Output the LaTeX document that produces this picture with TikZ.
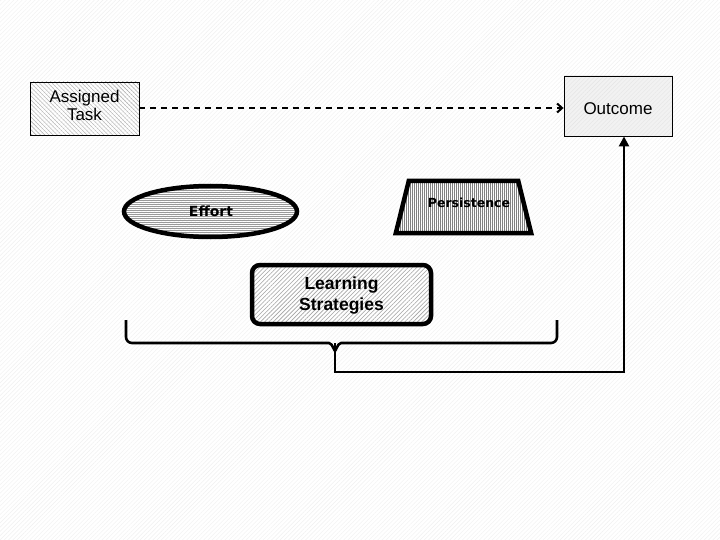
\documentclass[tikz,border=0pt]{standalone}
\usepackage{fontspec}
\setmainfont{Liberation Sans}
\newfontfamily\boldsans{DejaVu Sans}
\usetikzlibrary{arrows.meta,patterns,patterns.meta,shapes.geometric}
\tikzset{
  thinbox/.style={draw=black,line width=0.9pt,inner sep=0pt,align=center},
  thickshape/.style={draw=black,line width=4.5pt,inner sep=0pt,align=center},
  smallbold/.style={font=\boldsans\bfseries\fontsize{12.5}{14}\selectfont},
  boxtext/.style={font=\fontsize{17}{18.5}\selectfont,align=center,inner sep=0pt},
  connector/.style={line width=2.6pt}
}
\begin{document}
\begin{tikzpicture}[x=1pt,y=-1pt]
\useasboundingbox (0,0) rectangle (720,540);
\fill[white] (0,0) rectangle (720,540);
\fill[pattern={Lines[angle=45,distance=3pt,line width=0.4pt]},pattern color=black!6] (0,0) rectangle (720,540);
% Assigned Task
\node[thinbox,minimum width=109,minimum height=53,
  pattern={Lines[angle=-45,distance=3pt,line width=0.4pt]},pattern color=black!35] (task) at (84.5,108.5) {};
\node[boxtext] (tasktext) at (84.5,105.5) {Assigned\\Task};
% Outcome
\node[thinbox,minimum width=108,minimum height=60,
  pattern={Dots[distance=2pt,radius=0.45pt]},pattern color=black!60] (outcome) at (618,106) {};
\node[boxtext] (outtext) at (618,109) {Outcome};
% Effort
\node[thickshape,ellipse,minimum width=173,minimum height=51,
  pattern={Lines[angle=0,distance=2pt,line width=0.8pt]},pattern color=black!40] (effort) at (210.5,211.5) {};
\node[smallbold,font=\boldsans\bfseries\fontsize{14}{16}\selectfont,inner sep=0pt] (efforttext) at (211,211.5) {Effort};
% Persistence
\node[inner sep=0pt,minimum width=135,minimum height=52] (pers) at (463.5,207) {};
\draw[line width=4.5pt,line join=miter,pattern={Lines[angle=90,distance=2pt,line width=0.9pt]},pattern color=black!50]
  (pers.south west) -- (pers.south east) -- ([xshift=-13]pers.north east) -- ([xshift=13]pers.north west) -- cycle;
\node[smallbold,inner sep=0pt] (perstext) at (469,203) {Persistence};
% Learning Strategies
\node[thickshape,rounded corners=8pt,minimum width=179,minimum height=59,
  pattern={Lines[angle=45,distance=3pt,line width=0.6pt]},pattern color=black!35] (learn) at (341.5,294.5) {};
\node[font=\bfseries\fontsize{17.5}{21}\selectfont,align=center,inner sep=0pt] (learntext) at (341.5,296) {Learning\\Strategies};
% dashed arrow
\draw[line width=2.2pt,dash pattern=on 6pt off 5pt,-{Straight Barb[length=5pt,width=9pt,line width=2pt]}]
  (task.east |- 0,108) -- (outcome.west |- 0,108);
% brace
\coordinate (tip) at (335,343);
\draw[connector,line join=round]
  (126,320) -- (126,337) to[out=-90,in=180] (132,343) -- (329,343) to[out=0,in=-90] (335,350)
  (335,350) to[out=-90,in=180] (341,343) -- (551,343) to[out=0,in=-90] (557,337) -- (557,320);
\coordinate (corner) at (624,372);
\draw[connector,-{Triangle[length=10pt,width=10pt]}]
  (tip) |- (corner) -- ([xshift=6pt]outcome.south);
\end{tikzpicture}
\end{document}
